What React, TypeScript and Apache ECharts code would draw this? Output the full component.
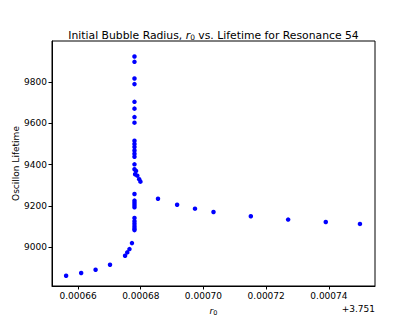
import React, { useEffect, useRef } from "react";
import * as echarts from "echarts";

const r0Offset: number[] = [
  0.0006562, 0.000661, 0.0006656, 0.0006702, 0.000675, 0.0006757, 0.0006764, 0.0006772,
  0.000678, 0.000678, 0.000678, 0.000678, 0.000678, 0.000678, 0.000678, 0.000678, 0.000678, 0.000678,
  0.000678, 0.0006782, 0.000678, 0.000678, 0.000678, 0.000678, 0.000678, 0.000678, 0.000678, 0.000678,
  0.000678, 0.000678, 0.000678, 0.000678, 0.000678, 0.000678, 0.000678, 0.000678,
  0.0006785, 0.0006789, 0.0006795, 0.0006799, 0.0006855, 0.0006916, 0.0006973, 0.0007032,
  0.0007151, 0.000727, 0.000739, 0.0007499,
];
const lifetime: number[] = [
  8861, 8874, 8890, 8914, 8958, 8974, 8990, 9019,
  9082, 9090, 9101, 9113, 9125, 9141, 9193, 9204, 9215, 9225,
  9257, 9353, 9377, 9401, 9438, 9452, 9468, 9485, 9500, 9515,
  9603, 9630, 9671, 9704, 9790, 9817, 9898, 9924,
  9369, 9346, 9329, 9317, 9234, 9205, 9186, 9170,
  9149, 9133, 9121, 9112,
];
const xTicks: number[] = [0.00066, 0.00068, 0.0007, 0.00072, 0.00074];
const yTicks: number[] = [9000, 9200, 9400, 9600, 9800];
const xOffsetText = "+3.751";

const FONT = "DejaVu Sans";

export default function App() {
  const ref = useRef<HTMLDivElement>(null);
  useEffect(() => {
    if (!ref.current) return;
    const chart = echarts.init(ref.current, undefined, { renderer: "svg" });
    const data = r0Offset.map((x, i) => [x, lifetime[i]]);
    chart.setOption({
      animation: false,
      backgroundColor: "#ffffff",
      grid: {
        left: 52,
        top: 41,
        width: 323,
        height: 245,
        show: true,
        borderColor: "#000",
        borderWidth: 1,
        backgroundColor: "transparent",
        containLabel: false,
        outerBoundsMode: "none",
      },
      xAxis: {
        type: "value",
        min: 0.0006517,
        max: 0.0007547,
        splitLine: { show: false },
        axisLine: { show: true, lineStyle: { color: "#000", width: 1 } },
        axisTick: {
          show: true,
          length: 3.5,
          lineStyle: { color: "#000" },
          customValues: xTicks,
        },
        axisLabel: {
          customValues: xTicks,
          color: "#000",
          fontFamily: FONT,
          fontSize: 9,
          margin: 5,
          formatter: (v: number) => v.toFixed(5),
        },
        name: "{i|r}{s|0}",
        nameLocation: "middle",
        nameGap: 19,
        nameMoveOverlap: false,
        nameTextStyle: {
          rich: {
            i: { fontFamily: FONT, fontStyle: "italic", fontSize: 9, color: "#000" },
            s: { fontFamily: FONT, fontSize: 6.5, color: "#000", verticalAlign: "bottom", padding: [4, 0, 0, 0] },
          },
        },
      },
      yAxis: {
        type: "value",
        min: 8811,
        max: 9999,
        splitLine: { show: false },
        axisLine: { show: true, lineStyle: { color: "#000", width: 1 } },
        axisTick: {
          show: true,
          length: 3.5,
          lineStyle: { color: "#000" },
          customValues: yTicks,
        },
        axisLabel: {
          customValues: yTicks,
          color: "#000",
          fontFamily: FONT,
          fontSize: 9,
          margin: 5,
          formatter: (v: number) => String(v),
        },
        name: "Oscillon Lifetime",
        nameLocation: "middle",
        nameGap: 32,
        nameMoveOverlap: false,
        nameTextStyle: { fontFamily: FONT, fontSize: 9, color: "#000" },
      },
      series: [
        {
          type: "scatter",
          data,
          symbol: "circle",
          symbolSize: 4.5,
          itemStyle: { color: "#0000ff", opacity: 1 },
        },
      ],
      graphic: [
        {
          type: "text",
          x: 213.5,
          y: 35,
          style: {
            text: "Initial Bubble Radius, {i|r}{s|0} vs. Lifetime for Resonance 54",
            fontFamily: FONT,
            fontSize: 10.8,
            fill: "#000",
            align: "center",
            verticalAlign: "middle",
            rich: {
              i: { fontFamily: FONT, fontStyle: "italic", fontSize: 10.8, fill: "#000" },
              s: { fontFamily: FONT, fontSize: 7.5, fill: "#000", padding: [5, 0, 0, 0] },
            },
          },
        },
        {
          type: "text",
          x: 375,
          y: 309,
          style: {
            text: xOffsetText,
            fontFamily: FONT,
            fontSize: 9,
            fill: "#000",
            align: "right",
            verticalAlign: "middle",
          },
        },
      ],
    });
    return () => chart.dispose();
  }, []);
  return (
    <div
      ref={ref}
      style={{ position: "fixed", left: 0, top: 0, width: 415, height: 332 }}
    />
  );
}
